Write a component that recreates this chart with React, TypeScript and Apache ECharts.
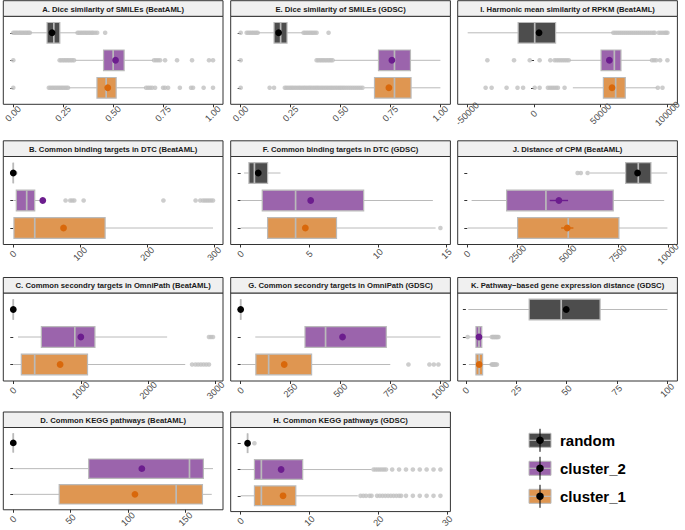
import React, { useEffect, useRef } from 'react';
import * as echarts from 'echarts';

// ---------------- data ----------------
const GROUPS = ['random', 'cluster_2', 'cluster_1'];

// box stats per group: [whiskerMin, q1, median, q3, whiskerMax]
const A_title = 'A. Dice similarity of SMILEs (BeatAML)';
const A_ticks = [0, 0.25, 0.5, 0.75, 1];
const A_box = [[0.086, 0.169, 0.203, 0.233, 0.319], [0.31, 0.452, 0.5, 0.555, 0.7], [0.277, 0.419, 0.465, 0.515, 0.66]];
const A_mean = [0.194, 0.512, 0.473];
const A_ci = [0.003, 0.004, 0.004];
const A_out = [
  [0, 0.008, 0.015, 0.022, 0.03, 0.036, 0.043, 0.05, 0.057, 0.064, 0.07, 0.077, 0.083, 0.322, 0.33, 0.338, 0.346, 0.354, 0.362, 0.37, 0.378, 0.386, 0.394, 0.4, 0.41, 0.42, 0.46],
  [0, 0.232, 0.24, 0.248, 0.256, 0.264, 0.272, 0.28, 0.288, 0.296, 0.304, 0.705, 0.715, 0.725, 0.735, 0.76, 0.82, 0.895, 0.98, 1.0],
  [0, 0.178, 0.186, 0.194, 0.202, 0.21, 0.218, 0.226, 0.234, 0.242, 0.25, 0.258, 0.266, 0.274, 0.665, 0.675, 0.685, 0.695, 0.71, 0.75, 0.76, 0.775, 0.834, 0.89, 0.9, 0.953, 1.0],
];

const E_title = 'E. Dice similarity of SMILEs (GDSC)';
const E_ticks = [0, 0.25, 0.5, 0.75, 1];
const E_box = [[0.087, 0.167, 0.2, 0.232, 0.31], [0.467, 0.69, 0.77, 0.85, 1.0], [0.62, 0.67, 0.77, 0.853, 1.0]];
const E_mean = [0.19, 0.757, 0.742];
const E_ci = [0.003, 0.004, 0.004];
const E_out = [
  [0, 0.03, 0.038, 0.046, 0.054, 0.062, 0.07, 0.078, 0.085, 0.315, 0.323, 0.331, 0.339, 0.347, 0.355, 0.363, 0.371, 0.38, 0.44],
  [0, 0.38, 0.388, 0.396, 0.404, 0.412, 0.42, 0.428, 0.436, 0.444, 0.452, 0.46],
  [0, 0.145, 0.167, 0.221, 0.229, 0.238, 0.247, 0.255, 0.263, 0.272, 0.281, 0.29, 0.298, 0.307, 0.316, 0.324, 0.333, 0.342, 0.35, 0.359, 0.368, 0.377, 0.385, 0.394, 0.403, 0.412, 0.421, 0.43, 0.439, 0.448, 0.457, 0.466, 0.475, 0.484, 0.493, 0.502, 0.511, 0.52, 0.53, 0.54, 0.55, 0.56, 0.57, 0.58, 0.59, 0.6, 0.61],
];

const I_title = 'I. Harmonic mean similarity of RPKM (BeatAML)';
const I_ticks = [-50000, 0, 50000, 100000];
const I_box = [[-49750, -11940, 500, 16170, 59000], [26600, 50250, 60200, 65170, 87500], [29100, 52000, 61200, 68400, 92000]];
const I_mean = [3730, 56470, 58460];
const I_ci = [900, 800, 800];
const I_out = [
  [59500, 61000, 62500, 64000, 65500, 67000, 68500, 70000, 71500, 73000, 74500, 76000, 77500, 79000, 80500, 82000, 83500, 85000, 86500, 88000, 89500, 90500, 93500, 95000, 96500, 98000, 99000, 100000],
  [-35000, -15000, -3200, 4200, 12200, 15400, 17000, 18500, 20000, 21500, 23000, 24500, 26000, 88500, 90000, 91500, 94500, 100000],
  [-36300, -31800, -20600, -12400, -8200, 500, 4200, 10400, 12000, 13500, 15000, 16500, 17900, 22900, 92800, 96300],
];

const B_title = 'B. Common binding targets in DTC (BeatAML)';
const B_ticks = [0, 100, 200, 300];
const B_box = [[0, 0, 0, 0, 0], [1, 4.5, 20, 32, 45], [0, 1, 32, 137, 298]];
const B_mean = [0, 44, 75];
const B_ci = [0, 2, 3];
const B_out = [[3], [78, 85, 88, 91, 105, 224, 272, 279, 283, 286, 289, 292, 295, 298], []];

const F_title = 'F. Common binding targets in DTC (GDSC)';
const F_ticks = [0, 5, 10, 15];
const F_box = [[0.25, 0.6, 1.0, 1.96, 2.9], [0, 1.57, 4.0, 8.96, 14.0], [0, 1.96, 4.0, 6.98, 14.2]];
const F_mean = [1.28, 5.1, 4.71];
const F_ci = [0.05, 0.15, 0.12];
const F_out = [[], [], [14.55]];

const J_title = 'J. Distance of CPM (BeatAML)';
const J_ticks = [0, 2500, 5000, 7500, 10000];
const J_box = [[6100, 7880, 8510, 9140, 9950], [215, 1957, 3914, 7264, 9800], [20, 2504, 5025, 7546, 9960]];
const J_mean = [8475, 4560, 4975];
const J_ci = [120, 457, 305];
const J_out = [[5490, 5650, 5990], [], []];

const C_title = 'C. Common secondry targets in OmniPath (BeatAML)';
const C_ticks = [0, 1000, 2000, 3000];
const C_box = [[0, 0, 0, 0, 0], [70, 416, 912, 1210, 2280], [0, 119, 317, 1100, 2548]];
const C_mean = [0, 1001, 694];
const C_ci = [0, 15, 15];
const C_out = [[], [2900, 2930, 2960], [2650, 2700, 2740, 2780, 2820, 2860, 2900]];

const G_title = 'G. Common secondry targets in OmniPath (GDSC)';
const G_ticks = [0, 250, 500, 750, 1000];
const G_box = [[0, 0, 0, 0, 0], [73, 322, 425, 729, 1000], [3, 76, 140, 355, 749]];
const G_mean = [0, 510, 218];
const G_ci = [0, 6, 5];
const G_out = [[], [], [840, 945, 967, 990]];

const K_title = 'K. Pathway\u2212based gene expression distance (GDSC)';
const K_ticks = [0, 25, 50, 75, 100];
const K_box = [[1.2, 31.4, 47.3, 66.6, 100], [1.8, 5, 6.5, 7.9, 12], [1.5, 5, 6.6, 8.3, 12.5]];
const K_mean = [49.8, 6.5, 6.6];
const K_ci = [0.5, 0.1, 0.1];
const K_out = [[], [0.9, 12.9, 13.3, 13.7, 14.1, 14.5, 14.9, 15.3, 15.7, 16.2], [12.8, 13.2, 13.6, 14.0, 14.4, 14.8, 15.4]];

const D_title = 'D. Common KEGG pathways (BeatAML)';
const D_ticks = [0, 50, 100, 150];
const D_box = [[0, 0, 0, 0, 0], [0, 65.7, 153.5, 165.6, 174], [0, 40, 141.9, 164.8, 172.9]];
const D_mean = [0, 112, 106];
const D_ci = [0, 1, 1];
const D_out = [[], [], []];

const H_title = 'H. Common KEGG pathways (GDSC)';
const H_ticks = [0, 10, 20, 30];
const H_box = [[1, 1, 1, 1, 1], [0, 2, 3, 9, 19], [0, 2, 3, 8, 17]];
const H_mean = [1, 5.87, 6.15];
const H_ci = [0, 0.1, 0.1];
const H_out = [
  [2],
  [19.3, 19.6, 19.9, 20.2, 20.5, 20.8, 21.1, 22, 23, 24, 25, 26, 27, 28, 29],
  [17.4, 17.8, 18.2, 18.7, 19.0, 19.8, 20.2, 20.6, 21.0, 21.4, 21.8, 22.2, 22.6, 23.0, 23.3, 24, 25, 26, 27, 28, 29],
];

// ---------------- styling / layout ----------------
const BOX_FILL = ['#4d4d4d', '#9b64ac', '#df9651'];
const MEAN_COLOR = ['#000000', '#6c1d8e', '#d9680b'];
const LINE_GRAY = '#bababa';
const OUT_GRAY = '#c0c0c0';
const FONT = "'Liberation Sans', Arial, Helvetica, sans-serif";
const BOX_WIDTH = 0.75;

const COL_X = [3.3, 230.7, 457.7];
const PANEL_W = 219.7;
const ROW_STRIP_TOP = [0.7, 140.8, 277.5, 412];
const ROW_PANEL_TOP = [16.3, 156.5, 293, 427.5];
const PANEL_H = 88;

const PANELS = [
  { title: A_title, ticks: A_ticks, box: A_box, mean: A_mean, ci: A_ci, out: A_out, dec: 2, col: 0, row: 0 },
  { title: B_title, ticks: B_ticks, box: B_box, mean: B_mean, ci: B_ci, out: B_out, dec: 0, col: 0, row: 1 },
  { title: C_title, ticks: C_ticks, box: C_box, mean: C_mean, ci: C_ci, out: C_out, dec: 0, col: 0, row: 2 },
  { title: D_title, ticks: D_ticks, box: D_box, mean: D_mean, ci: D_ci, out: D_out, dec: 0, col: 0, row: 3 },
  { title: E_title, ticks: E_ticks, box: E_box, mean: E_mean, ci: E_ci, out: E_out, dec: 2, col: 1, row: 0 },
  { title: F_title, ticks: F_ticks, box: F_box, mean: F_mean, ci: F_ci, out: F_out, dec: 0, col: 1, row: 1 },
  { title: G_title, ticks: G_ticks, box: G_box, mean: G_mean, ci: G_ci, out: G_out, dec: 0, col: 1, row: 2 },
  { title: H_title, ticks: H_ticks, box: H_box, mean: H_mean, ci: H_ci, out: H_out, dec: 0, col: 1, row: 3 },
  { title: I_title, ticks: I_ticks, box: I_box, mean: I_mean, ci: I_ci, out: I_out, dec: 0, col: 2, row: 0 },
  { title: J_title, ticks: J_ticks, box: J_box, mean: J_mean, ci: J_ci, out: J_out, dec: 0, col: 2, row: 1 },
  { title: K_title, ticks: K_ticks, box: K_box, mean: K_mean, ci: K_ci, out: K_out, dec: 0, col: 2, row: 2 },
];

function renderBox(_params: any, api: any) {
  const g = api.value(0);
  const ymid = api.coord([api.value(1), g])[1];
  const xs = [1, 2, 3, 4, 5].map((k) => api.coord([api.value(k), g])[0]);
  const h = api.size([0, BOX_WIDTH])[1];
  const gi = g - 1;
  return {
    type: 'group',
    children: [
      { type: 'line', shape: { x1: xs[0], y1: ymid, x2: xs[1], y2: ymid }, style: { stroke: LINE_GRAY, lineWidth: 1 } },
      { type: 'line', shape: { x1: xs[3], y1: ymid, x2: xs[4], y2: ymid }, style: { stroke: LINE_GRAY, lineWidth: 1 } },
      { type: 'rect', shape: { x: xs[1], y: ymid - h / 2, width: xs[3] - xs[1], height: h }, style: { fill: BOX_FILL[gi], stroke: LINE_GRAY, lineWidth: 1.2 } },
      { type: 'line', shape: { x1: xs[2], y1: ymid - h / 2, x2: xs[2], y2: ymid + h / 2 }, style: { stroke: LINE_GRAY, lineWidth: 1.7 } },
    ],
  };
}

function renderMean(_params: any, api: any) {
  const g = api.value(0);
  const m = api.value(1);
  const ci = api.value(2);
  const p = api.coord([m, g]);
  const lo = api.coord([m - ci, g]);
  const hi = api.coord([m + ci, g]);
  const c = MEAN_COLOR[g - 1];
  return {
    type: 'group',
    children: [
      { type: 'line', shape: { x1: lo[0], y1: p[1], x2: hi[0], y2: p[1] }, style: { stroke: c, lineWidth: 1.4 } },
      { type: 'circle', shape: { cx: p[0], cy: p[1], r: 3.4 }, style: { fill: c } },
    ],
  };
}

function buildOption() {
  const grid: any[] = [];
  const xAxis: any[] = [];
  const yAxis: any[] = [];
  const series: any[] = [];
  const graphic: any[] = [];

  PANELS.forEach((p, i) => {
    const all: number[] = [];
    p.box.forEach((b) => all.push(...b));
    p.out.forEach((o) => all.push(...o));
    const dmin = Math.min(...all);
    const dmax = Math.max(...all);
    const pad = (dmax - dmin) * 0.05;
    const left = COL_X[p.col];
    const top = ROW_PANEL_TOP[p.row];

    grid.push({ left, top, width: PANEL_W, height: PANEL_H, show: true, borderColor: '#333333', borderWidth: 1, backgroundColor: '#ffffff', containLabel: false });
    xAxis.push({
      type: 'value', gridIndex: i, min: dmin - pad, max: dmax + pad,
      axisLine: { show: false },
      splitLine: { show: false },
      axisTick: { show: true, customValues: p.ticks, length: 3, lineStyle: { color: '#333333', width: 1 } },
      axisLabel: {
        customValues: p.ticks, rotate: 45, align: 'center', verticalAlign: 'middle', margin: 9.5,
        fontSize: 9.2, color: '#4d4d4d', fontFamily: FONT,
        formatter: (v: number) => (p.dec ? v.toFixed(p.dec) : String(v)),
      },
    });
    yAxis.push({
      type: 'value', gridIndex: i, min: 0.4, max: 3.6, inverse: true,
      axisLine: { show: false },
      splitLine: { show: false },
      axisTick: { show: true, customValues: [1, 2, 3], length: 3, lineStyle: { color: '#333333', width: 1 } },
      axisLabel: { show: false },
    });

    const outData: number[][] = [];
    p.out.forEach((o, g) => o.forEach((v) => outData.push([v, g + 1])));
    series.push({
      type: 'scatter', xAxisIndex: i, yAxisIndex: i, data: outData, symbolSize: 4.6,
      itemStyle: { color: OUT_GRAY }, silent: true, z: 2,
    });
    series.push({
      type: 'custom', xAxisIndex: i, yAxisIndex: i, renderItem: renderBox, silent: true, z: 3,
      encode: { x: [1, 2, 3, 4, 5], y: 0 },
      data: p.box.map((b, g) => [g + 1, ...b]),
    });
    series.push({
      type: 'custom', xAxisIndex: i, yAxisIndex: i, renderItem: renderMean, silent: true, z: 4,
      encode: { x: 1, y: 0 },
      data: p.mean.map((m, g) => [g + 1, m, p.ci[g]]),
    });

    const sTop = ROW_STRIP_TOP[p.row];
    const sH = top - sTop;
    graphic.push({
      type: 'rect', silent: true, z: 10,
      shape: { x: left, y: sTop, width: PANEL_W, height: sH },
      style: { fill: '#f0f0f0', stroke: '#333333', lineWidth: 1 },
    });
    graphic.push({
      type: 'text', silent: true, z: 11, x: left + PANEL_W / 2, y: sTop + sH / 2 + 0.5,
      style: { text: p.title, fill: '#1a1a1a', fontSize: 7.7, fontWeight: 'bold', fontFamily: FONT, align: 'center', verticalAlign: 'middle' },
    });
  });

  // legend
  GROUPS.forEach((name, i) => {
    const cy = 440.3 + 28 * i;
    graphic.push({ type: 'rect', silent: true, z: 10, shape: { x: 529, y: cy - 7, width: 22, height: 14 }, style: { fill: BOX_FILL[i], stroke: LINE_GRAY, lineWidth: 1 } });
    graphic.push({ type: 'line', silent: true, z: 11, shape: { x1: 529, y1: cy, x2: 551, y2: cy }, style: { stroke: LINE_GRAY, lineWidth: 1.2 } });
    graphic.push({ type: 'line', silent: true, z: 12, shape: { x1: 540, y1: cy - 11.5, x2: 540, y2: cy + 11.5 }, style: { stroke: '#000000', lineWidth: 1 } });
    graphic.push({ type: 'circle', silent: true, z: 13, shape: { cx: 540, cy, r: 3.8 }, style: { fill: '#000000' } });
    graphic.push({
      type: 'text', silent: true, z: 13, x: 560, y: cy + 0.5,
      style: { text: name, fill: '#000000', fontSize: 15, fontWeight: 'bold', fontFamily: FONT, align: 'left', verticalAlign: 'middle' },
    });
  });

  return { animation: false, backgroundColor: '#ffffff', grid, xAxis, yAxis, series, graphic };
}

export default function App() {
  const ref = useRef<HTMLDivElement>(null);
  useEffect(() => {
    document.body.style.margin = '0';
    if (!ref.current) return;
    const chart = echarts.init(ref.current, undefined, { renderer: 'svg' });
    chart.setOption(buildOption() as any);
    return () => chart.dispose();
  }, []);
  return <div ref={ref} style={{ width: 685, height: 530 }} />;
}
